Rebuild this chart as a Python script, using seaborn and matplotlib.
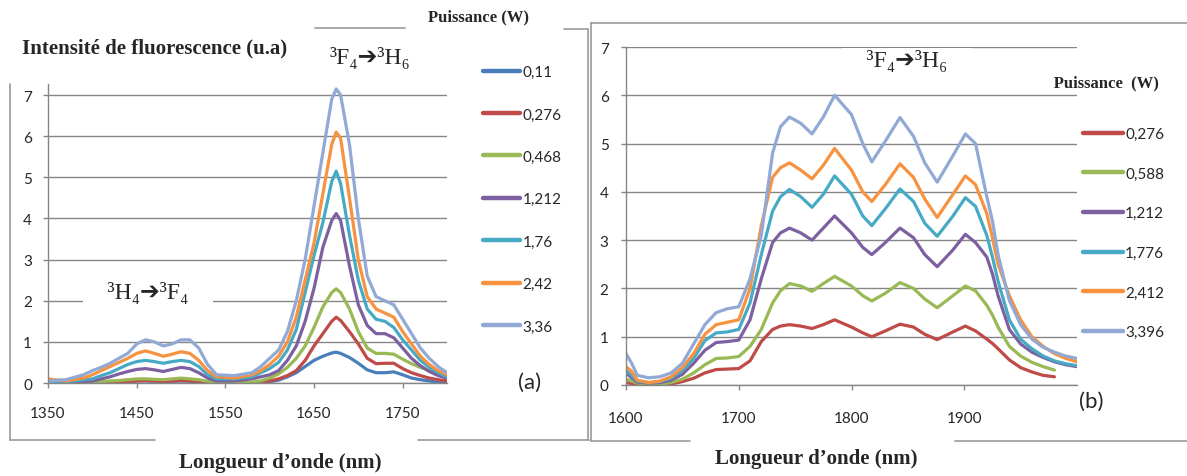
import numpy as np
import pandas as pd
import matplotlib
matplotlib.use("Agg")
import matplotlib.pyplot as plt
import seaborn as sns
from matplotlib.lines import Line2D

# --- (a) spectre 1350-1800 nm ---
nm_a = [1350, 1370, 1390, 1400, 1410, 1420, 1430, 1440, 1450, 1460, 1470,
        1480, 1490, 1500, 1510, 1520, 1530, 1540, 1560, 1580, 1590, 1600,
        1610, 1620, 1630, 1640, 1650, 1660, 1670, 1675, 1680, 1690, 1700,
        1710, 1720, 1730, 1740, 1750, 1760, 1770, 1780, 1790, 1800]
puissance_a = ["0,11", "0,276", "0,468", "1,212", "1,76", "2,42", "3,36"]
p011 = [0.02, 0.0, 0.0, 0.0, 0.0, 0.0, 0.02, 0.03, 0.05, 0.05, 0.04, 0.03, 0.04, 0.05, 0.04, 0.03, 0.01, 0.0,
        0.0, 0.0, 0.0, 0.03, 0.07, 0.15, 0.25, 0.4, 0.55, 0.65, 0.73, 0.75,
        0.72, 0.62, 0.48, 0.32, 0.25, 0.25, 0.27, 0.2, 0.12, 0.08, 0.05, 0.02, 0.0]
p0276 = [0.05, 0.0, 0.0, 0.0, 0.0, 0.02, 0.03, 0.04, 0.05, 0.06, 0.05, 0.04, 0.05, 0.06, 0.05, 0.04, 0.02, 0.0,
         0.0, 0.0, 0.02, 0.05, 0.1, 0.18, 0.3, 0.55, 0.9, 1.2, 1.5, 1.6,
         1.52, 1.25, 0.95, 0.6, 0.47, 0.48, 0.48, 0.35, 0.25, 0.18, 0.12, 0.08, 0.05]
p0468 = [0.0, 0.0, 0.0, 0.02, 0.03, 0.05, 0.06, 0.08, 0.1, 0.1, 0.09, 0.08, 0.1, 0.12, 0.1, 0.08, 0.04, 0.02,
         0.0, 0.02, 0.05, 0.12, 0.22, 0.38, 0.6, 0.9, 1.35, 1.85, 2.2, 2.29,
         2.2, 1.8, 1.25, 0.85, 0.72, 0.72, 0.7, 0.58, 0.47, 0.38, 0.3, 0.22, 0.15]
p1212 = [0.0, 0.0, 0.03, 0.05, 0.1, 0.15, 0.22, 0.28, 0.33, 0.35, 0.32, 0.28, 0.33, 0.38, 0.35, 0.25, 0.12, 0.05,
         0.05, 0.1, 0.15, 0.2, 0.3, 0.55, 0.9, 1.5, 2.3, 3.3, 3.95, 4.12,
         3.95, 2.85, 1.9, 1.4, 1.2, 1.2, 1.1, 0.85, 0.6, 0.42, 0.28, 0.18, 0.12]
p176 = [0.0, 0.02, 0.08, 0.1, 0.18, 0.25, 0.35, 0.45, 0.52, 0.55, 0.52, 0.48, 0.52, 0.55, 0.52, 0.4, 0.2, 0.1,
        0.1, 0.15, 0.25, 0.35, 0.5, 0.8, 1.3, 2.2, 3.1, 3.9, 4.9, 5.15,
        4.85, 3.6, 2.5, 1.8, 1.55, 1.5, 1.35, 1.05, 0.8, 0.55, 0.38, 0.25, 0.15]
p242 = [0.1, 0.05, 0.12, 0.2, 0.3, 0.4, 0.5, 0.6, 0.72, 0.78, 0.72, 0.65, 0.7, 0.76, 0.72, 0.55, 0.3, 0.15,
        0.12, 0.2, 0.3, 0.45, 0.65, 1.0, 1.6, 2.5, 3.4, 4.6, 5.8, 6.1,
        5.95, 4.5, 3.0, 2.1, 1.8, 1.7, 1.6, 1.25, 0.95, 0.65, 0.45, 0.3, 0.2]
p336 = [0.05, 0.08, 0.2, 0.3, 0.38, 0.48, 0.6, 0.72, 0.95, 1.05, 1.0, 0.9, 0.95, 1.05, 1.05, 0.85, 0.45, 0.2,
        0.18, 0.25, 0.4, 0.6, 0.8, 1.25, 2.0, 3.0, 4.3, 5.6, 6.9, 7.15,
        7.0, 5.8, 4.0, 2.6, 2.1, 2.0, 1.9, 1.55, 1.2, 0.85, 0.6, 0.4, 0.25]
series_a = [p011, p0276, p0468, p1212, p176, p242, p336]
couleurs_a = ["#4A7EBB", "#BE4B48", "#98B954", "#7D60A0", "#46AAC5", "#F69240", "#92A9D6"]

# --- (b) spectre 1600-2000 nm ---
nan = np.nan
nm_b = [1600, 1605, 1610, 1620, 1630, 1640, 1650, 1660, 1670, 1680, 1690, 1700, 1710,
        1720, 1730, 1737, 1745, 1755, 1765, 1775, 1785, 1800, 1810, 1818, 1830, 1843, 1855,
        1865, 1876, 1890, 1901, 1910, 1920, 1925, 1930, 1940, 1950, 1960, 1970, 1980, 1990, 2000]
puissance_b = ["0,276", "0,588", "1,212", "1,776", "2,412", "3,396"]
q0276 = [0.05, 0.03, 0.02, 0.0, 0.0, 0.02, 0.07, 0.14, 0.25, 0.32,
         0.33, 0.34, 0.5, 0.9, 1.15, 1.22, 1.25, 1.22, 1.17, 1.25, 1.35,
         1.2, 1.08, 1.0, 1.12, 1.26, 1.2, 1.05, 0.94, 1.1, 1.22,
         1.12, 0.95, 0.86, 0.75, 0.52, 0.36, 0.27, 0.2, 0.17, nan, nan]
q0588 = [0.12, 0.08, 0.04, 0.02, 0.02, 0.05, 0.12, 0.25, 0.42, 0.55,
         0.56, 0.59, 0.8, 1.15, 1.7, 1.95, 2.1, 2.05, 1.94, 2.1, 2.25,
         2.05, 1.85, 1.74, 1.9, 2.12, 2.0, 1.78, 1.6, 1.85, 2.05,
         1.95, 1.65, 1.45, 1.2, 0.8, 0.6, 0.47, 0.38, 0.31, nan, nan]
q1212 = [0.25, 0.15, 0.06, 0.04, 0.05, 0.1, 0.22, 0.45, 0.72, 0.88,
         0.9, 0.93, 1.35, 2.2, 2.95, 3.15, 3.25, 3.15, 3.0, 3.25, 3.5,
         3.15, 2.85, 2.7, 2.95, 3.25, 3.05, 2.7, 2.45, 2.8, 3.12,
         2.95, 2.65, 2.3, 1.85, 1.15, 0.85, 0.68, 0.57, 0.48, 0.42, 0.38]
q1776 = [0.3, 0.2, 0.08, 0.05, 0.07, 0.14, 0.3, 0.55, 0.92, 1.08,
         1.1, 1.15, 1.7, 2.7, 3.6, 3.9, 4.05, 3.9, 3.68, 3.95, 4.33,
         3.95, 3.5, 3.3, 3.65, 4.06, 3.8, 3.35, 3.08, 3.5, 3.88,
         3.7, 3.1, 2.65, 2.15, 1.35, 0.95, 0.75, 0.6, 0.5, 0.44, 0.4]
q2412 = [0.38, 0.28, 0.1, 0.05, 0.08, 0.17, 0.36, 0.65, 1.05, 1.25,
         1.3, 1.35, 2.0, 3.3, 4.3, 4.5, 4.6, 4.45, 4.27, 4.55, 4.9,
         4.45, 4.0, 3.8, 4.15, 4.58, 4.3, 3.85, 3.47, 3.95, 4.33,
         4.15, 3.55, 3.05, 2.5, 1.85, 1.35, 1.0, 0.8, 0.65, 0.55, 0.48]
q3396 = [0.65, 0.45, 0.2, 0.15, 0.17, 0.25, 0.45, 0.85, 1.25, 1.5,
         1.58, 1.62, 2.2, 3.1, 4.8, 5.35, 5.55, 5.42, 5.2, 5.55, 6.0,
         5.6, 5.0, 4.62, 5.05, 5.54, 5.15, 4.6, 4.2, 4.75, 5.2,
         5.0, 3.9, 3.4, 2.7, 1.75, 1.25, 0.95, 0.78, 0.68, 0.6, 0.55]
series_b = [q0276, q0588, q1212, q1776, q2412, q3396]
couleurs_b = couleurs_a[1:]

W, H = 1187, 477
GRIS = "#868686"
SERIF = ["Liberation Serif", "DejaVu Serif", "DejaVu Sans"]


def fx(x):
    return x / W


def fy(y):
    return 1 - y / H


def tableau_long(nm, series, labels):
    morceaux = []
    for lab, vals in zip(labels, series):
        morceaux.append(pd.DataFrame({"nm": nm, "intensite": vals, "puissance": lab}))
    return pd.concat(morceaux, ignore_index=True)


def styler_axe(ax, xlim, xticks, ymax, pad_y, pad_x):
    ax.set_xlim(*xlim)
    ax.set_ylim(0, ymax)
    ax.set_xticks(xticks)
    ax.set_yticks(range(0, 8))
    ax.set_axisbelow(True)
    ax.grid(axis="y", color=GRIS, lw=1)
    ax.grid(axis="x", visible=False)
    for s in ["top", "right"]:
        ax.spines[s].set_visible(False)
    for s in ["left", "bottom"]:
        ax.spines[s].set_color(GRIS)
        ax.spines[s].set_linewidth(1)
    ax.tick_params(axis="y", left=True, direction="out", length=3.5, width=1,
                   color=GRIS, labelsize=11, pad=pad_y)
    ax.tick_params(axis="x", bottom=True, direction="out", length=3.5, width=1,
                   color=GRIS, labelsize=11, pad=pad_x)
    ax.set_xlabel("")
    ax.set_ylabel("")
    ax.set_facecolor("none")


def legende(ax, couleurs, labels, x, y, espace, long):
    poignees = [Line2D([], [], color=c, lw=3.2, solid_capstyle="round") for c in couleurs]
    ax.legend(poignees, labels, loc="upper left", bbox_to_anchor=(fx(x), fy(y)),
              bbox_transform=ax.figure.transFigure, frameon=False, fontsize=11,
              borderpad=0, borderaxespad=0, labelspacing=espace,
              handlelength=long, handletextpad=0.15)


def trait(fig, x0, y0, x1, y1):
    fig.add_artist(Line2D([fx(x0), fx(x1)], [fy(y0), fy(y1)], color="#9A9A9A",
                          lw=1.2, transform=fig.transFigure))


sns.set_theme(style="white")
plt.rcParams["font.family"] = ["Lato", "DejaVu Sans"]

fig = plt.figure(figsize=(W / 100, H / 100), dpi=100)
ax_a = fig.add_axes([fx(48), fy(384), (447 - 48) / W, (384 - 85) / H])
ax_b = fig.add_axes([fx(626), fy(386), (1077 - 626) / W, (386 - 48) / H])

df_a = tableau_long(nm_a, series_a, puissance_a)
df_b = tableau_long(nm_b, series_b, puissance_b)

sns.lineplot(data=df_a, x="nm", y="intensite", hue="puissance", hue_order=puissance_a,
             palette=couleurs_a, estimator=None, sort=False, linewidth=2.3,
             legend=False, ax=ax_a)
sns.lineplot(data=df_b, x="nm", y="intensite", hue="puissance", hue_order=puissance_b,
             palette=couleurs_b, estimator=None, sort=False, linewidth=2.3,
             legend=False, ax=ax_b)

styler_axe(ax_a, (1350, 1800), [1350, 1450, 1550, 1650, 1750], 7.27, 8, 13)
styler_axe(ax_b, (1600, 2000), [1600, 1700, 1800, 1900], 7.0, 9, 15)

legende(ax_a, couleurs_a, puissance_a, 483, 66, 1.86, 2.45)
legende(ax_b, couleurs_b, puissance_b, 1083, 128, 1.68, 2.6)

# cadres
trait(fig, 10, 85, 10, 441)
trait(fig, 10, 441, 155, 441)
trait(fig, 418, 441, 589, 441)
trait(fig, 588, 30, 588, 441)
trait(fig, 564, 30, 588, 30)
trait(fig, 315, 29, 405, 29)
trait(fig, 591, 24, 591, 442)
trait(fig, 591, 24, 1187, 24)
trait(fig, 591, 442, 690, 442)
trait(fig, 955, 442, 1187, 442)

blanc = dict(facecolor="white", edgecolor="none", pad=0.5)

# textes (a)
fig.text(fx(22), fy(48), "Intensité de fluorescence (u.a)", family=SERIF,
         weight="bold", fontsize=15, ha="left", va="center")
fig.text(fx(478), fy(17), "Puissance (W)", family=SERIF, weight="bold",
         fontsize=12, ha="center", va="center")
fig.text(fx(370), fy(58), "³F₄➔³H₆", family=SERIF, fontsize=17,
         ha="center", va="center")
fig.text(fx(148), fy(293), "    ³H₄➔³F₄    ", family=SERIF, fontsize=17,
         ha="center", va="center", bbox=blanc)
fig.text(fx(280), fy(463), "Longueur d’onde (nm)", family=SERIF, weight="bold",
         fontsize=15, ha="center", va="center")
fig.text(fx(530), fy(383), "(a)", fontsize=16, ha="center", va="center")

# textes (b)
fig.text(fx(907), fy(61), "    ³F₄➔³H₆    ", family=SERIF, fontsize=17,
         ha="center", va="center", bbox=blanc)
fig.text(fx(1029), fy(83), "      Puissance  (W)", family=SERIF, weight="bold",
         fontsize=12, ha="left", va="center", bbox=blanc)
fig.text(fx(816), fy(459), "Longueur d’onde (nm)", family=SERIF, weight="bold",
         fontsize=15, ha="center", va="center")
fig.text(fx(1091), fy(402), "(b)", fontsize=16, ha="center", va="center")

fig.savefig("out.png", dpi=100, facecolor="white")
